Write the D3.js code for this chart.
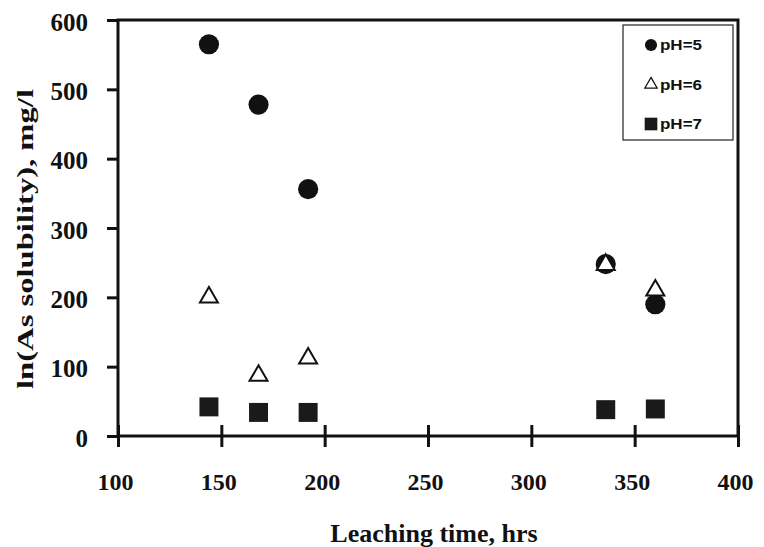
<!DOCTYPE html>
<html>
<head>
<meta charset="utf-8">
<script src="https://cdn.jsdelivr.net/npm/d3@7"></script>
<style>
  body { margin: 0; background: #fff; }
  svg { display: block; }
</style>
</head>
<body>
<div id="chart"></div>
<script>
"use strict";

// Data
const hours = [144, 168, 192, 336, 360];
const ph5 = [565, 478, 356, 248, 190];
const ph6 = [200, 87, 112, 247, 210];
const ph7 = [42, 34, 34, 38, 39];
const xTicks = [100, 150, 200, 250, 300, 350, 400];
const yTicks = [0, 100, 200, 300, 400, 500, 600];
const seriesNames = ["pH=5", "pH=6", "pH=7"];

const width = 764, height = 547;
const margin = { top: 20, right: 26, bottom: 111, left: 118 };

const svg = d3.select("#chart").append("svg")
    .attr("width", width)
    .attr("height", height);

const xScale = d3.scaleLinear()
    .domain([100, 400])
    .range([margin.left, width - margin.right]);

const yScale = d3.scaleLinear()
    .domain([0, 600])
    .range([height - margin.bottom, margin.top]);

const serif = "'Liberation Serif', 'Times New Roman', serif";
const sans = "'Liberation Sans', Arial, sans-serif";

// Plot frame
svg.append("rect")
    .attr("x", xScale(100))
    .attr("y", yScale(600))
    .attr("width", xScale(400) - xScale(100))
    .attr("height", yScale(0) - yScale(600))
    .attr("fill", "none")
    .attr("stroke", "#111")
    .attr("stroke-width", 3);

// x axis, ticks crossing the line
svg.append("g")
    .attr("transform", `translate(0,${yScale(0)})`)
    .call(d3.axisBottom(xScale).tickValues(xTicks).tickSize(11).tickPadding(26))
    .call(g => g.select(".domain").remove())
    .call(g => g.selectAll(".tick line")
        .attr("y1", -11)
        .attr("stroke", "#111")
        .attr("stroke-width", 3))
    .call(g => g.selectAll(".tick text")
        .attr("dx", "-3")
        .style("font-family", serif)
        .style("font-weight", "bold")
        .style("font-size", "24px")
        .attr("fill", "#111"));

// y axis
svg.append("g")
    .attr("transform", `translate(${xScale(100)},0)`)
    .call(d3.axisLeft(yScale).tickValues(yTicks).tickSize(11).tickPadding(19))
    .call(g => g.select(".domain").remove())
    .call(g => g.selectAll(".tick line")
        .attr("stroke", "#111")
        .attr("stroke-width", 3))
    .call(g => g.selectAll(".tick text")
        .attr("dy", "0.4em")
        .style("font-family", serif)
        .style("font-weight", "bold")
        .style("font-size", "25px")
        .attr("fill", "#111"));

// Axis titles
svg.append("text")
    .attr("x", 434)
    .attr("y", 542)
    .attr("text-anchor", "middle")
    .style("font-family", serif)
    .style("font-weight", "bold")
    .style("font-size", "26px")
    .attr("fill", "#111")
    .text("Leaching time, hrs");

svg.append("text")
    .attr("transform", "translate(33,239) rotate(-90)")
    .attr("text-anchor", "middle")
    .attr("textLength", 300)
    .attr("lengthAdjust", "spacingAndGlyphs")
    .style("font-family", serif)
    .style("font-weight", "bold")
    .style("font-size", "23px")
    .attr("fill", "#111")
    .text("ln(As solubility), mg/l");

// Markers: circles first, open triangles over them, squares last
const circleSym = d3.symbol().type(d3.symbolCircle).size(320);
const triSym = d3.symbol().type(d3.symbolTriangle).size(140);
const squareSym = d3.symbol().type(d3.symbolSquare).size(360);

svg.append("g")
    .selectAll("path")
    .data(hours.map((h, i) => ({ x: h, y: ph5[i] })))
    .join("path")
    .attr("d", circleSym)
    .attr("transform", d => `translate(${xScale(d.x)},${yScale(d.y)})`)
    .attr("fill", "#111");

svg.append("g")
    .selectAll("path")
    .data(hours.map((h, i) => ({ x: h, y: ph6[i] })))
    .join("path")
    .attr("d", triSym)
    .attr("transform", d => `translate(${xScale(d.x)},${yScale(d.y)})`)
    .attr("fill", "#fff")
    .attr("stroke", "#111")
    .attr("stroke-width", 2);

svg.append("g")
    .selectAll("path")
    .data(hours.map((h, i) => ({ x: h, y: ph7[i] })))
    .join("path")
    .attr("d", squareSym)
    .attr("transform", d => `translate(${xScale(d.x)},${yScale(d.y)})`)
    .attr("fill", "#1a1a1a");

// Legend
const legend = svg.append("g").attr("transform", "translate(623,25)");
legend.append("rect")
    .attr("width", 110)
    .attr("height", 115)
    .attr("fill", "#fff")
    .attr("stroke", "#222")
    .attr("stroke-width", 1.2);

const legendSyms = [
    { sym: d3.symbol().type(d3.symbolCircle).size(115), fill: "#111", stroke: "none" },
    { sym: d3.symbol().type(d3.symbolTriangle).size(65), fill: "#fff", stroke: "#111" },
    { sym: d3.symbol().type(d3.symbolSquare).size(160), fill: "#1a1a1a", stroke: "none" }
];

const entry = legend.selectAll("g.entry")
    .data(seriesNames)
    .join("g")
    .attr("class", "entry")
    .attr("transform", (d, i) => `translate(28,${20 + i * 39.5})`);

entry.append("path")
    .attr("d", (d, i) => legendSyms[i].sym())
    .attr("fill", (d, i) => legendSyms[i].fill)
    .attr("stroke", (d, i) => legendSyms[i].stroke)
    .attr("stroke-width", 1.3);

entry.append("text")
    .attr("x", 9)
    .attr("y", 5)
    .attr("textLength", 42)
    .attr("lengthAdjust", "spacingAndGlyphs")
    .style("font-family", sans)
    .style("font-weight", "bold")
    .style("font-size", "14px")
    .attr("fill", "#111")
    .text(d => d);
</script>
</body>
</html>
